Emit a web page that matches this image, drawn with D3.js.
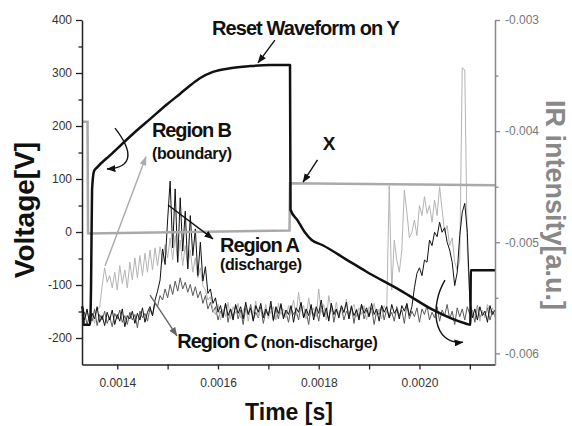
<!DOCTYPE html>
<html>
<head>
<meta charset="UTF-8">
<script src="https://cdn.jsdelivr.net/npm/d3@7"></script>
<style>
  body { margin: 0; background: #fff; }
  text { font-family: "Liberation Sans", Arial, sans-serif; }
</style>
</head>
<body>
<script>
var width = 572, height = 426;

// IR traces, sampled every 5 us from t0 (values in 1e-3 a.u.)
var t0 = 0.00133, dt = 0.000005;

// Region A (discharge) - black
var irA = [-5.62,-5.70,-5.60,-5.73,-5.64,-5.69,-5.58,-5.72,-5.66,-5.75,
  -5.63,-5.70,-5.61,-5.74,-5.65,-5.71,-5.60,-5.76,-5.66,-5.69,
  -5.62,-5.73,-5.64,-5.70,-5.59,-5.72,-5.63,-5.58,-5.66,-5.52,
  -5.44,-5.34,-5.06,-5.20,-4.80,-4.45,-5.05,-4.52,-5.18,-4.60,
  -5.08,-4.72,-5.24,-4.76,-5.12,-4.88,-5.30,-5.00,-5.35,-5.22,
  -5.46,-5.42,-5.55,-5.50,-5.63,-5.57,-5.68,-5.55,-5.66,-5.60,
  -5.70,-5.56,-5.64,-5.58,-5.69,-5.54,-5.65,-5.59,-5.71,-5.57,
  -5.63,-5.55,-5.68,-5.60,-5.66,-5.53,-5.70,-5.58,-5.64,-5.56,
  -5.69,-5.61,-5.65,-5.57,-5.72,-5.59,-5.63,-5.54,-5.68,-5.60,
  -5.66,-5.56,-5.70,-5.58,-5.64,-5.52,-5.67,-5.59,-5.71,-5.55,
  -5.65,-5.60,-5.68,-5.57,-5.63,-5.54,-5.69,-5.58,-5.66,-5.61,
  -5.70,-5.56,-5.64,-5.59,-5.67,-5.55,-5.65,-5.60,-5.71,-5.57,
  -5.63,-5.58,-5.68,-5.56,-5.64,-5.60,-5.69,-5.57,-5.62,-5.55,
  -5.66,-5.58,-5.41,-5.28,-5.23,-5.30,-5.16,-5.18,-4.98,-5.03,
  -4.91,-4.95,-4.82,-4.91,-4.87,-5.00,-5.07,-5.18,-5.39,-5.27,
  -4.94,-4.73,-4.65,-4.91,-5.52,-5.68,-5.60,-5.70,-5.58,-5.66,
  -5.62,-5.72,-5.57,-5.65,-5.61];

// Region B (boundary) - light gray
var irB = [-5.66,-5.72,-5.62,-5.70,-5.64,-5.73,-5.60,-5.59,-5.39,-5.23,
  -5.36,-5.30,-5.41,-5.27,-5.43,-5.21,-5.37,-5.25,-5.41,-5.18,
  -5.34,-5.14,-5.32,-5.12,-5.30,-5.10,-5.27,-5.07,-5.25,-5.05,
  -5.21,-5.04,-5.18,-5.02,-5.14,-4.96,-5.16,-4.94,-5.18,-4.98,
  -5.21,-5.03,-5.23,-5.07,-5.27,-5.14,-5.32,-5.23,-5.39,-5.43,
  -5.52,-5.49,-5.61,-5.65,-5.56,-5.70,-5.60,-5.67,-5.54,-5.69,
  -5.58,-5.64,-5.55,-5.68,-5.61,-5.57,-5.71,-5.59,-5.64,-5.53,
  -5.67,-5.60,-5.66,-5.56,-5.69,-5.62,-5.58,-5.70,-5.55,-5.65,
  -5.60,-5.68,-5.57,-5.63,-5.52,-5.66,-5.45,-5.62,-5.57,-5.69,
  -5.50,-5.64,-5.59,-5.67,-5.42,-5.63,-5.56,-5.70,-5.48,-5.61,
  -5.66,-5.54,-5.68,-5.58,-5.64,-5.51,-5.69,-5.60,-5.56,-5.67,
  -5.59,-5.65,-5.57,-5.70,-5.58,-5.63,-5.55,-5.66,-5.60,-5.69,
  -5.57,-5.62,-4.49,-5.43,-4.98,-5.16,-5.27,-5.07,-4.53,-4.73,
  -4.96,-4.91,-4.80,-4.94,-4.67,-4.76,-4.59,-4.74,-4.67,-4.82,
  -4.62,-4.76,-4.50,-4.71,-4.91,-4.85,-5.03,-4.96,-5.18,-5.25,
  -5.16,-3.43,-3.45,-5.07,-5.52,-5.63,-5.66,-5.58,-5.71,-5.61,
  -5.68,-5.56,-5.64,-5.59,-5.67];

// Region C (non-discharge) - dark gray
var irC = [-5.69,-5.63,-5.74,-5.66,-5.71,-5.60,-5.75,-5.65,-5.70,-5.62,
  -5.73,-5.67,-5.76,-5.64,-5.69,-5.61,-5.72,-5.66,-5.74,-5.63,
  -5.70,-5.65,-5.77,-5.62,-5.68,-5.64,-5.71,-5.60,-5.66,-5.55,
  -5.58,-5.48,-5.52,-5.42,-5.50,-5.38,-5.47,-5.35,-5.44,-5.32,
  -5.42,-5.36,-5.45,-5.38,-5.48,-5.40,-5.50,-5.44,-5.55,-5.48,
  -5.60,-5.54,-5.63,-5.58,-5.70,-5.62,-5.66,-5.55,-5.72,-5.60,
  -5.67,-5.57,-5.69,-5.61,-5.74,-5.59,-5.65,-5.56,-5.70,-5.63,
  -5.68,-5.58,-5.73,-5.62,-5.66,-5.57,-5.71,-5.60,-5.69,-5.55,
  -5.67,-5.63,-5.72,-5.59,-5.65,-5.61,-5.70,-5.56,-5.68,-5.62,
  -5.74,-5.58,-5.66,-5.60,-5.71,-5.57,-5.67,-5.63,-5.69,-5.55,
  -5.72,-5.61,-5.65,-5.58,-5.70,-5.62,-5.66,-5.57,-5.73,-5.60,
  -5.68,-5.56,-5.69,-5.61,-5.67,-5.59,-5.74,-5.62,-5.65,-5.57,
  -5.70,-5.60,-5.68,-5.63,-5.71,-5.58,-5.66,-5.61,-5.73,-5.56,
  -5.69,-5.62,-5.67,-5.59,-5.72,-5.60,-5.65,-5.57,-5.70,-5.63,
  -5.68,-5.58,-5.71,-5.61,-5.66,-5.56,-5.69,-5.62,-5.74,-5.59,
  -5.67,-5.60,-5.70,-5.58,-5.65,-5.61,-5.72,-5.57,-5.68,-5.63,
  -5.66,-5.59,-5.70,-5.62,-5.67];

// reset waveform on Y electrode (voltage)
var resetT = [0.001330,0.001332,0.001333,0.001346,0.001348,0.001350,0.001354,0.001360,0.001386,0.001431,
  0.001465,0.001499,0.001525,0.001544,0.001564,0.001590,0.001624,0.001664,0.001703,0.001743,
  0.001744,0.001758,0.001772,0.001786,0.001808,0.001855,0.001895,0.001962,0.002029,
  0.002063,0.002093,0.002101,0.002102,0.002150];
var resetV = [-140,-150,-175,-175,-100,80,115,122,145,185,
  213,241,261,276,290,302,309,313,315,315,
  42,22,0,-15,-25,-52,-75,-110,-148,
  -163,-173,-175,-72,-72];

// X electrode waveform (voltage)
var xT = [0.001330,0.001341,0.001342,0.001742,0.001743,0.002150];
var xV = [208,208,-3,3,92,88];

// ticks
var voltTicks = [-200,-100,0,100,200,300,400];
var voltMinor = [-150,-50,50,150,250,350];
var timeTicks = [0.0014,0.0016,0.0018,0.0020];
var timeMinor = [0.0015,0.0017,0.0019,0.0021];
var irTicks = [-6,-5,-4,-3];
var irMinor = [-5.5,-4.5,-3.5];

var svg = d3.select('body').append('svg')
  .attr('width', width).attr('height', height);

var x = d3.scaleLinear().domain([0.00133, 0.00215]).range([82, 495]);
var yV = d3.scaleLinear().domain([-250, 400]).range([364.5, 20]);
var yIR = d3.scaleLinear().domain([-6.1, -3.0]).range([364.5, 20]);

// arrow heads
var defs = svg.append('defs');
[['ahBlack','#111'],['ahLight','#aaa'],['ahDark','#666']].forEach(function(m){
  defs.append('marker').attr('id', m[0])
    .attr('viewBox','0 0 9 7').attr('refX', 8.5).attr('refY', 3.5)
    .attr('markerWidth', 9).attr('markerHeight', 7)
    .attr('markerUnits','userSpaceOnUse').attr('orient','auto')
    .append('path').attr('d','M0,0 L9,3.5 L0,7 z').attr('fill', m[1]);
});

// IR traces
var irLine = d3.line()
  .x(function(d, i){ return x(t0 + i*dt); })
  .y(function(d){ return yIR(d); });

[[irC,'#5a5a5a'],[irB,'#b4b4b4'],[irA,'#111']].forEach(function(s){
  svg.append('path').attr('d', irLine(s[0]))
    .attr('fill','none').attr('stroke', s[1]).attr('stroke-width', 1)
    .attr('stroke-linejoin','round');
});

// voltage waveforms
var vLine = d3.line()
  .x(function(d){ return x(d[0]); })
  .y(function(d){ return yV(d[1]); });

svg.append('path').attr('d', vLine(d3.zip(xT, xV)))
  .attr('fill','none').attr('stroke','#aaa').attr('stroke-width', 2.5);
svg.append('path').attr('d', vLine.curve(d3.curveMonotoneX)(d3.zip(resetT, resetV)))
  .attr('fill','none').attr('stroke','#111').attr('stroke-width', 2.5)
  .attr('stroke-linejoin','round');
vLine.curve(d3.curveLinear);

// axes
function styleAxis(g, color, fcolor){
  g.select('.domain').attr('stroke', color).attr('stroke-width', 1.5);
  g.selectAll('.tick line').attr('stroke', color).attr('stroke-width', 1.3);
  g.selectAll('.tick text').attr('fill', fcolor).attr('font-size', 12)
    .attr('font-family', '"Liberation Sans", Arial, sans-serif');
}

var gl = svg.append('g').attr('transform','translate(82,0)')
  .call(d3.axisLeft(yV).tickValues(voltTicks).tickFormat(function(d){ return String(d); })
    .tickSize(6).tickSizeOuter(0).tickPadding(4));
styleAxis(gl, '#222', '#333');
var glm = svg.append('g').attr('transform','translate(82,0)')
  .call(d3.axisLeft(yV).tickValues(voltMinor).tickFormat('').tickSize(3.5).tickSizeOuter(0));
styleAxis(glm, '#222', '#333');
glm.select('.domain').remove();

var gb = svg.append('g').attr('transform','translate(0,364.5)')
  .call(d3.axisBottom(x).tickValues(timeTicks).tickFormat(d3.format('.4f'))
    .tickSize(5).tickSizeOuter(0).tickPadding(9));
styleAxis(gb, '#222', '#333');
var gbm = svg.append('g').attr('transform','translate(0,364.5)')
  .call(d3.axisBottom(x).tickValues(timeMinor).tickFormat('').tickSize(5).tickSizeOuter(0));
styleAxis(gbm, '#222', '#333');
gbm.select('.domain').remove();

var gr = svg.append('g').attr('transform','translate(495,0)')
  .call(d3.axisRight(yIR).tickValues(irTicks).tickFormat(function(d){ return (d/1000).toFixed(3); })
    .tickSize(5).tickSizeOuter(0).tickPadding(5));
styleAxis(gr, '#888', '#777');
var grm = svg.append('g').attr('transform','translate(495,0)')
  .call(d3.axisRight(yIR).tickValues(irMinor).tickFormat('').tickSize(3.5).tickSizeOuter(0));
styleAxis(grm, '#888', '#777');
grm.select('.domain').remove();

// axis titles
svg.append('text').attr('transform','translate(34,210) rotate(-90)')
  .attr('text-anchor','middle').attr('font-size', 28).attr('font-weight','bold')
  .attr('fill','#111').text('Voltage[V]');
svg.append('text').attr('x', 289).attr('y', 420)
  .attr('text-anchor','middle').attr('font-size', 23).attr('font-weight','bold')
  .attr('fill','#111').text('Time [s]');
svg.append('text').attr('transform','translate(546,205) rotate(90)')
  .attr('text-anchor','middle').attr('font-size', 27).attr('font-weight','bold')
  .attr('fill','#888').text('IR intensity[a.u.]');

// annotations
function note(txt, t, v, size, len){
  svg.append('text').attr('x', x(t)).attr('y', yV(v))
    .attr('font-size', size).attr('font-weight','bold').attr('fill','#111')
    .attr('textLength', len).text(txt);
}
note('Reset Waveform on Y', 0.001588, 372, 20, 188);
note('Region B', 0.001469, 179, 20, 80);
note('(boundary)', 0.001469, 138, 16, 80);
note('X', 0.001808, 155, 19, 12);
note('Region A', 0.001604, -38, 20, 80);
note('(discharge)', 0.001604, -72, 16, 82);
note('Region C', 0.001519, -219, 20, 81);
note('(non-discharge)', 0.001685, -219, 16, 117);

function arrow(pts, color, marker){
  svg.append('path').attr('d', vLine(pts))
    .attr('fill','none').attr('stroke', color).attr('stroke-width', 1.4)
    .attr('marker-end','url(#' + marker + ')');
}
function curvedArrow(p0, c1, c2, p1, color, marker){
  var d = 'M' + x(p0[0]) + ',' + yV(p0[1]) +
    ' C' + x(c1[0]) + ',' + yV(c1[1]) + ' ' + x(c2[0]) + ',' + yV(c2[1]) +
    ' ' + x(p1[0]) + ',' + yV(p1[1]);
  svg.append('path').attr('d', d)
    .attr('fill','none').attr('stroke', color).attr('stroke-width', 1.4)
    .attr('marker-end','url(#' + marker + ')');
}
arrow([[0.001713, 362], [0.0016795, 319]], '#111', 'ahBlack');
arrow([[0.0017976, 136], [0.0017688, 94]], '#111', 'ahBlack');
arrow([[0.0015008, 51], [0.00159, -13]], '#111', 'ahBlack');
arrow([[0.001465, -119], [0.0015186, -196]], '#666', 'ahDark');
arrow([[0.0013757, -64], [0.001457, 142]], '#aaa', 'ahLight');
curvedArrow([0.0013955, 196], [0.0014293, 155], [0.0014352, 121], [0.0013796, 119], '#111', 'ahBlack');
curvedArrow([0.0020507, -91], [0.0020209, -138], [0.0020249, -213], [0.0020865, -208], '#111', 'ahBlack');
</script>
</body>
</html>
